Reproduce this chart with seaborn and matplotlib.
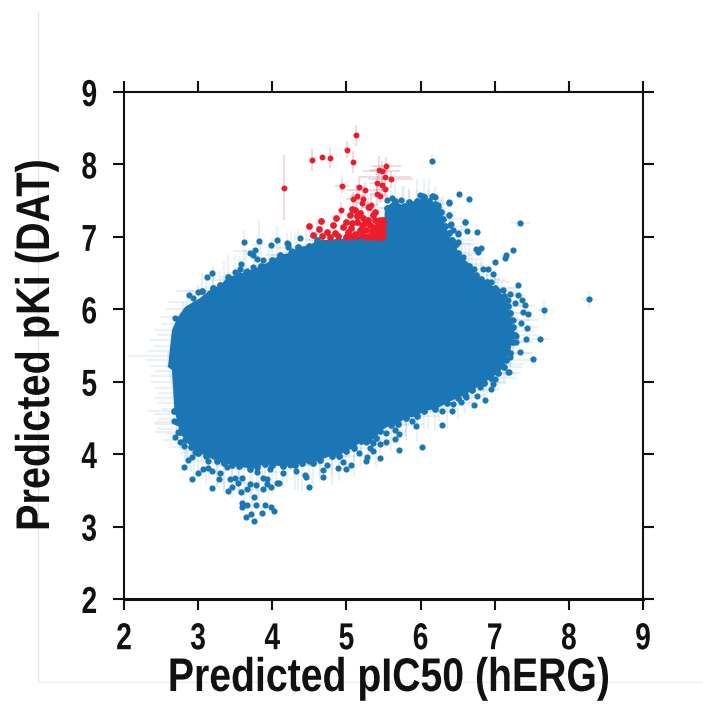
import matplotlib
matplotlib.use('Agg')
import matplotlib.pyplot as plt
from matplotlib.lines import Line2D
from matplotlib.patheffects import AbstractPathEffect
from matplotlib.transforms import Affine2D
import seaborn as sns

# outline of the solid core of the cloud (individual points not readable in there)
core_x = [2.593, 2.647, 2.728, 2.823, 3.025, 3.2, 3.3, 3.4, 3.55, 3.65, 3.85, 4.0, 4.1, 4.25, 4.35, 4.5, 4.6,
          5.0, 5.5, 5.52, 5.65, 5.78, 5.85, 5.95, 6.05, 6.12, 6.2, 6.28, 6.3, 6.33, 6.38, 6.42, 6.48, 6.5, 6.56,
          6.6, 6.65, 6.75, 6.82, 6.9, 7.0, 7.05, 7.12, 7.18, 7.2, 7.22, 7.25, 7.28, 7.24, 7.2, 7.15, 7.12, 7.05,
          6.95, 6.85, 6.7, 6.6, 6.5, 6.35, 6.2, 6.05, 5.95, 5.8, 5.7, 5.6, 5.45, 5.4, 5.3, 5.2, 5.1, 5.0, 4.9, 4.8,
          4.65, 4.55, 4.4, 4.3, 4.15, 4.0, 3.9, 3.8, 3.7, 3.55, 3.45, 3.35, 3.25, 3.1, 3.0, 2.9, 2.82, 2.75, 2.72,
          2.68, 2.647]
core_y = [5.203, 5.714, 5.894, 6.032, 6.156, 6.3, 6.33, 6.45, 6.48, 6.52, 6.6, 6.68, 6.75, 6.78, 6.86, 6.88, 6.95,
          6.98, 7.05, 7.4, 7.5, 7.42, 7.48, 7.5, 7.55, 7.5, 7.45, 7.35, 7.25, 7.15, 7.05, 6.95, 6.9, 6.78, 6.7,
          6.62, 6.6, 6.48, 6.42, 6.38, 6.3, 6.25, 6.18, 6.05, 5.95, 5.85, 5.75, 5.65, 5.55, 5.4, 5.3, 5.2, 5.12,
          5.05, 4.98, 4.88, 4.82, 4.78, 4.7, 4.62, 4.6, 4.52, 4.5, 4.42, 4.4, 4.32, 4.22, 4.2, 4.18, 4.08, 4.05,
          3.98, 3.98, 3.92, 3.88, 3.88, 3.85, 3.83, 3.85, 3.87, 3.82, 3.8, 3.83, 3.85, 3.88, 3.9, 3.98, 4.02, 4.1,
          4.2, 4.3, 4.45, 4.6, 5.162]

# points crowding the rim of the core, these make it rough
edge_x = [3.05, 3.2, 3.3, 3.4, 3.55, 3.65, 3.85, 4.0, 4.1, 4.25, 4.35, 4.5, 4.6,
          5.55, 5.65, 5.78, 5.85, 5.95, 6.05, 6.12, 6.2, 6.28, 6.3, 6.33, 6.38, 6.42, 6.48, 6.5, 6.56, 6.6, 6.65,
          6.75, 6.82, 6.9, 7.0, 7.05, 7.12, 7.18, 7.2, 7.22, 7.25, 7.28, 7.24, 7.2, 7.15, 7.12, 7.05, 6.95, 6.85,
          6.7, 6.6, 6.5, 6.35, 6.2, 6.05, 5.95, 5.8, 5.7, 5.6, 5.45, 5.4, 5.3, 5.2, 5.1, 5.0, 4.9, 4.8, 4.65, 4.55,
          4.4, 4.3, 4.15, 4.0, 3.9, 3.8, 3.7, 3.55, 3.45, 3.35, 3.25, 3.1, 3.0, 2.9, 2.82, 2.75, 2.72, 2.68]
edge_y = [6.25, 6.3, 6.33, 6.45, 6.48, 6.52, 6.6, 6.68, 6.75, 6.78, 6.86, 6.88, 6.95,
          7.4, 7.5, 7.42, 7.48, 7.5, 7.55, 7.5, 7.45, 7.35, 7.25, 7.15, 7.05, 6.95, 6.9, 6.78, 6.7, 6.62, 6.6,
          6.48, 6.42, 6.38, 6.3, 6.25, 6.18, 6.05, 5.95, 5.85, 5.75, 5.65, 5.55, 5.4, 5.3, 5.2, 5.12, 5.05, 4.98,
          4.88, 4.82, 4.78, 4.7, 4.62, 4.6, 4.52, 4.5, 4.42, 4.4, 4.32, 4.22, 4.2, 4.18, 4.08, 4.05, 3.98, 3.98, 3.92, 3.88,
          3.88, 3.85, 3.83, 3.85, 3.87, 3.82, 3.8, 3.83, 3.85, 3.88, 3.9, 3.98, 4.02, 4.1, 4.2, 4.3, 4.45, 4.6]
edge_xerr = [.2, .1, .15, .1, .2, .1, .15, .1, .2, .1, .15, .2, .1,
             .15, .2, .25, .15, .2, .1, .2, .25, .2, .3, .25, .2, .3, .2, .25, .3, .25, .2,
             .3, .25, .3, .35, .25, .3, .35, .3, .25, .35, .3, .25, .3, .35, .25, .3, .35, .3,
             .35, .3, .25, .35, .3, .4, .3, .25, .35, .3, .35, .25, .3, .25, .3, .2, .3, .25, .3, .2,
             .3, .25, .3, .2, .3, .25, .2, .3, .25, .2, .25, .3, .25, .3, .3, .35, .3, .35]
edge_yerr = [.25, .3, .2, .3, .25, .3, .35, .3, .25, .3, .25, .3, .25,
             .3, .25, .3, .2, .3, .25, .3, .25, .2, .3, .25, .3, .2, .25, .3, .2, .25, .3,
             .2, .25, .2, .25, .2, .15, .2, .15, .2, .15, .2, .15, .2, .25, .2, .25, .2, .25,
             .3, .25, .3, .35, .3, .25, .35, .3, .25, .35, .3, .4, .3, .35, .4, .3, .35, .4, .3, .35,
             .4, .35, .3, .4, .35, .45, .4, .35, .45, .4, .35, .4, .3, .35, .3, .25, .2, .15]

# separate blue points around the edge
blue_x = [3.623, 3.821, 4.068, 3.983, 3.767, 3.70, 3.736, 3.79, 3.87, 3.578, 3.565, 3.493, 3.664, 3.736, 3.191,
          3.115, 2.872, 3.003, 2.935, 2.688, 4.374, 4.217, 4.208, 4.266, 4.15,
          2.674, 2.688, 2.733, 2.809, 2.755, 2.958, 2.868, 2.913, 2.814, 2.922, 2.994, 3.061, 3.128, 3.191, 3.183,
          3.277, 3.295, 3.407, 3.457, 3.43, 3.497, 3.542, 3.583, 3.664, 3.70, 3.78, 3.749, 3.587, 3.587, 3.655,
          3.776, 3.897, 3.987, 4.023, 3.866, 3.718, 3.646, 3.758, 3.879, 3.987, 3.929, 3.87, 3.929, 4.059, 4.095,
          4.491, 4.441, 4.455, 4.32, 4.14, 3.97, 4.239, 3.596, 3.79, 3.385, 3.138, 3.34,
          4.689, 4.689, 4.882, 4.99, 5.062, 4.959, 5.26, 5.458, 5.278, 5.174, 5.354, 5.318, 5.709, 6.02, 5.269,
          5.363, 5.449, 5.539, 5.651, 5.714, 5.534, 5.655, 5.939, 5.889, 6.294, 6.429, 6.285, 6.546, 6.717, 6.87,
          6.757, 6.613, 6.442, 6.946, 6.982, 7.004, 6.802, 6.60, 7.184, 6.991, 6.892, 4.491, 4.734,
          6.523, 6.658, 6.383, 7.346, 6.595, 6.383, 6.406, 6.631, 6.765, 6.509, 6.743, 6.815, 6.779, 7.247, 7.152,
          7.139, 7.004, 6.577, 6.725, 6.837, 6.914, 6.972, 6.95, 7.319, 7.206, 7.319, 7.107, 7.175, 7.364, 8.276,
          7.669, 7.408, 7.386, 7.444, 7.355, 7.44, 7.287, 7.418, 7.611, 7.287, 7.337, 7.521, 7.188, 7.251, 7.274,
          7.206, 7.049, 6.891, 6.99, 6.239, 6.194, 6.15, 6.509, 6.442,
          6.15, 5.992, 6.172, 6.037, 5.61, 5.732, 5.543, 6.384, 5.948, 6.24, 5.903, 6.384, 5.768, 6.6, 6.397,
          6.51, 4.203, 4.266]
blue_y = [6.925, 6.948, 6.957, 6.892, 6.823, 6.782, 6.754, 6.695, 6.681, 6.621, 6.556, 6.515, 6.534, 6.584, 6.506,
          6.441, 6.193, 6.244, 6.152, 5.885, 6.98, 6.90, 6.865, 6.805, 6.717,
          4.462, 4.242, 4.311, 4.113, 4.173, 4.025, 3.92, 3.956, 3.818, 3.657, 3.745, 3.80, 3.809, 3.772, 3.533,
          3.653, 3.735, 3.487, 3.547, 3.653, 3.666, 3.607, 3.482, 3.515, 3.588, 3.574, 3.413, 3.33, 3.275, 3.294,
          3.294, 3.294, 3.275, 3.22, 3.188, 3.169, 3.133, 3.077, 3.524, 3.547, 3.584, 3.676, 3.662, 3.607, 3.597,
          3.547, 3.712, 3.689, 3.768, 3.735, 3.791, 3.85, 3.666, 3.758, 3.827, 3.91, 3.92,
          3.782, 3.68, 3.804, 3.795, 3.85, 3.887, 3.91, 3.942, 3.966, 4.021, 4.039, 4.09, 4.053, 4.094, 4.168,
          4.15, 4.14, 4.168, 4.209, 4.274, 4.288, 4.334, 4.393, 4.458, 4.403, 4.601, 4.601, 4.72, 4.683, 4.743,
          4.803, 4.785, 4.693, 4.90, 4.969, 5.038, 4.923, 4.90, 5.139, 5.153, 5.093, 3.91, 3.85,
          7.587, 7.523, 7.477, 7.196, 7.21, 7.302, 7.173, 7.076, 7.072, 7.049, 6.832, 6.846, 6.786, 6.814, 6.745,
          6.704, 6.648, 6.717, 6.556, 6.552, 6.552, 6.487, 6.381, 6.34, 6.216, 6.197, 6.266, 6.128, 6.124, 6.142,
          5.99, 6.055, 5.967, 5.94, 5.815, 5.746, 5.631, 5.585, 5.594, 5.544, 5.41, 5.314, 5.134, 5.852, 6.082,
          5.346, 5.199, 5.093, 5.162, 7.44, 7.555, 7.564, 6.934, 7.095,
          8.047, 7.578, 7.564, 7.564, 7.531, 7.509, 7.509, 7.472, 7.44, 7.416, 7.394, 7.301, 7.301, 7.209, 7.163,
          7.039, 6.91, 6.795]

# faint whiskers sticking out of the cloud
left_x = [3.0, 2.85, 2.8, 2.75, 2.7, 2.68, 2.66, 2.65, 2.65, 2.62, 2.6, 2.62, 2.6, 2.62, 2.65, 2.65, 2.67, 2.68,
          2.7, 2.72, 2.75, 2.75, 2.76, 2.8, 2.8, 2.85]
left_y = [6.25, 6.1, 6.0, 5.9, 5.8, 5.72, 5.65, 5.58, 5.5, 5.42, 5.36, 5.3, 5.22, 5.15, 5.08, 5.0, 4.92, 4.85,
          4.78, 4.7, 4.62, 4.55, 4.48, 4.42, 4.35, 4.28]
left_xerr = [.3, .25, .25, .25, .2, .28, .22, .3, .25, .3, .55, .32, .25, .22, .3, .28, .25, .22,
             .3, .28, .25, .35, .3, .4, .35, .3]
left_yerr = [.1, .08, .1, .08, .05, .08, .05, .08, .05, .08, .05, .08, .05, .08, .05, .08, .05, .08,
             .05, .08, .05, .08, .1, .08, .15, .2]

bottom_x = [2.85, 2.95, 3.05, 3.15, 3.25, 3.35, 3.45, 3.55, 3.62, 3.72, 3.82, 3.95, 4.05, 4.2, 4.35, 4.5,
            4.65, 4.8, 4.95, 5.1, 5.2, 5.35, 5.5, 5.65, 5.8, 5.95, 6.1, 6.25, 6.45, 6.65, 6.85]
bottom_y = [4.2, 4.1, 4.05, 4.0, 3.95, 3.95, 3.9, 3.9, 3.6, 3.5, 3.6, 3.75, 3.85, 3.9, 3.85, 3.95,
            4.0, 4.05, 4.1, 4.2, 4.3, 4.35, 4.45, 4.5, 4.55, 4.6, 4.65, 4.7, 4.75, 4.9, 5.05]
bottom_xerr = [.2, .15, .25, .2, .15, .25, .2, .2, .15, .2, .15, .2, .2, .15, .2, .25,
               .2, .15, .2, .25, .2, .25, .3, .25, .2, .3, .25, .2, .2, .2, .2]
bottom_yerr = [.35, .45, .4, .35, .4, .45, .35, .4, .3, .35, .3, .3, .25, .3, .35, .25,
               .3, .35, .25, .3, .25, .3, .2, .25, .3, .2, .3, .25, .2, .25, .2]

top_x = [3.1, 3.2, 3.35, 3.5, 3.62, 3.75, 3.82, 3.95, 4.07, 4.2, 4.3, 4.45, 4.6, 5.6, 5.75, 5.85, 5.95, 6.1,
         6.25, 6.4, 6.55]
top_y = [6.2, 6.25, 6.4, 6.5, 6.8, 6.55, 6.9, 6.6, 6.85, 6.75, 6.8, 6.85, 6.95, 7.4, 7.4, 7.4, 7.45, 7.4,
         7.3, 7.1, 6.9]
top_xerr = [.15, .1, .2, .1, .15, .1, .1, .2, .1, .2, .1, .15, .15, .15, .1, .2, .15, .2, .2, .2, .2]
top_yerr = [.3, .3, .25, .25, .3, .3, .35, .3, .3, .3, .25, .3, .3, .25, .3, .25, .2, .25, .25, .25, .25]

right_x = [6.5, 6.7, 6.9, 7.0, 7.1, 7.15, 7.2, 7.25, 7.3, 7.25, 7.2, 7.1, 7.0, 6.9, 8.276, 7.346, 7.669, 6.15,
           7.611, 7.521]
right_y = [6.75, 6.55, 6.4, 6.3, 6.2, 6.05, 5.95, 5.85, 5.7, 5.55, 5.4, 5.25, 5.1, 5.0, 6.142, 7.196, 5.99, 8.047,
           5.594, 5.314]
right_xerr = [.2, .25, .25, .3, .3, .25, .3, .35, .25, .25, .3, .3, .3, .25, .1, .13, .08, .05, .12, .06]
right_yerr = [.2, .2, .15, .2, .2, .15, .2, .15, .2, .15, .2, .2, .2, .15, .12, .05, .15, .1, .05, .06]

# red compounds: the upper ones have readable error bars
red_top_x = [4.153, 4.540, 4.675, 4.774, 5.003, 5.125, 5.093, 4.94, 5.534, 5.44, 5.475, 5.52, 5.597, 5.417, 5.484,
             5.52, 5.174, 5.255, 5.417, 5.453, 5.147, 5.093, 5.219, 5.206, 5.327, 5.296, 4.931]
red_top_y = [7.679, 8.065, 8.107, 8.093, 8.203, 8.401, 8.038, 7.706, 7.982, 7.918, 7.904, 7.831, 7.794, 7.748, 7.720,
             7.66, 7.683, 7.646, 7.587, 7.564, 7.564, 7.522, 7.518, 7.462, 7.44, 7.407, 7.375]
red_top_xerr = [.03, .03, .03, .02, .03, .03, .02, .1, .2, .12, .25, .35, .3, .1, .05,
                .05, .05, .25, .1, .1, .1, .1, .1, .1, .1, .08, .05]
red_top_yerr = [.45, .15, .03, .14, .12, .15, .15, .1, .12, .2, .15, .1, .12, .15, .1,
                .1, .15, .1, .15, .1, .15, .1, .12, .1, .15, .1, .1]

red_x = [5.071, 5.116, 5.183, 5.309, 5.386, 5.363, 5.048, 5.147, 5.228, 4.855, 4.653, 4.495, 4.823, 4.635, 4.554,
         4.666, 4.733, 4.778, 4.846, 4.891, 4.958, 4.99, 5.071, 5.138, 5.026, 5.116, 5.183, 5.003, 5.071, 5.147,
         5.206, 5.264, 5.264, 5.318, 5.386, 5.453, 5.498, 5.296, 5.43, 5.498, 5.363, 5.341, 5.408, 5.475, 5.498,
         5.43, 5.363, 5.309, 5.475, 5.408, 5.341, 5.0, 5.057, 5.206, 5.25]
red_y = [7.38, 7.37, 7.324, 7.416, 7.347, 7.301, 7.301, 7.288, 7.255, 7.265, 7.214, 7.154, 7.163, 7.113, 7.03,
         7.012, 7.067, 7.002, 7.058, 7.012, 7.131, 7.209, 7.186, 7.209, 7.071, 7.039, 7.094, 7.012, 7.012, 7.012,
         7.039, 7.002, 7.094, 7.163, 7.232, 7.232, 7.232, 7.232, 7.163, 7.163, 7.14, 7.085, 7.094, 7.094, 7.039,
         7.039, 7.025, 7.012, 7.0, 7.0, 7.0, 7.0, 7.117, 7.163, 7.186]

axis_ticks = [2, 3, 4, 5, 6, 7, 8, 9]
BLUE = '#1a76b5'
RED = '#ed1c2a'


class Condense(AbstractPathEffect):
    # no narrow bold font here, so squeeze the text along its baseline
    def __init__(self, sx):
        super().__init__()
        self.sx = sx

    def draw_path(self, renderer, gc, tpath, affine, rgbFace=None):
        box = tpath.get_extents()
        cx = (box.x0 + box.x1) / 2
        squeeze = Affine2D().translate(-cx, 0).scale(self.sx, 1).translate(cx, 0)
        renderer.draw_path(gc, tpath, squeeze + affine, rgbFace)


sns.set_style('white')
plt.rcParams['font.family'] = ['Liberation Sans', 'DejaVu Sans']

fig = plt.figure(figsize=(7.03, 7.07), dpi=100)
ax = fig.add_axes([124 / 703, 1 - 599 / 707, 519 / 703, 507 / 707])

# whiskers first, the core covers their inner half
for xs, ys, xe, ye in [(left_x, left_y, left_xerr, left_yerr),
                       (bottom_x, bottom_y, bottom_xerr, bottom_yerr),
                       (top_x, top_y, top_xerr, top_yerr),
                       (right_x, right_y, right_xerr, right_yerr),
                       (edge_x, edge_y, edge_xerr, edge_yerr)]:
    ax.errorbar(xs, ys, xerr=xe, yerr=ye, fmt='none', ecolor=BLUE, alpha=0.09, elinewidth=1.5, zorder=1)

ax.fill(core_x, core_y, color=BLUE, linewidth=0, zorder=2)
sns.scatterplot(x=edge_x, y=edge_y, color=BLUE, s=24, linewidth=0, ax=ax, zorder=3)
sns.scatterplot(x=blue_x, y=blue_y, color=BLUE, s=20, linewidth=0, ax=ax, zorder=3)

ax.errorbar(red_top_x, red_top_y, xerr=red_top_xerr, yerr=red_top_yerr, fmt='none',
            ecolor='#a83a55', alpha=0.18, elinewidth=1.4, zorder=4)
sns.scatterplot(x=red_top_x, y=red_top_y, color=RED, s=18, linewidth=0, ax=ax, zorder=5)
sns.scatterplot(x=red_x, y=red_y, color=RED, s=24, linewidth=0, ax=ax, zorder=5)

ax.set_xlim(2, 9)
ax.set_ylim(2, 9)
ax.set_xticks(axis_ticks)
ax.set_yticks(axis_ticks)
ax.tick_params(axis='both', which='major', direction='out', length=8, width=1.5, color='#111111',
               top=True, right=True, left=True, bottom=True, labelsize=27)
ax.tick_params(axis='x', pad=8)
ax.tick_params(axis='y', pad=9.5)
for label in ax.get_xticklabels() + ax.get_yticklabels():
    label.set_fontweight('bold')
    label.set_color('#111111')
    label.set_path_effects([Condense(0.75)])
for side in ax.spines.values():
    side.set_linewidth(1.5)
    side.set_color('#111111')
ax.spines['bottom'].set_linewidth(2.2)

xlab = fig.text(389 / 703, 1 - 679 / 707, 'Predicted pIC50 (hERG)', ha='center', va='center',
                fontsize=34, fontweight='bold', color='#111111')
xlab.set_path_effects([Condense(0.83)])
ylab = fig.text(37 / 703, 1 - 345 / 707, 'Predicted pKi (DAT)', ha='center', va='center', rotation=90,
                fontsize=34, fontweight='bold', color='#111111')
ylab.set_path_effects([Condense(0.84)])

# pale frame left over around the panel
fig.add_artist(Line2D([38 / 703, 38 / 703], [1 - 12 / 707, 1 - 682 / 707], color='#e4e4e4', linewidth=0.9))
fig.add_artist(Line2D([38 / 703, 703 / 703], [1 - 682 / 707, 1 - 682 / 707], color='#eeeeee', linewidth=0.9))

fig.savefig('out.png', dpi=100)
